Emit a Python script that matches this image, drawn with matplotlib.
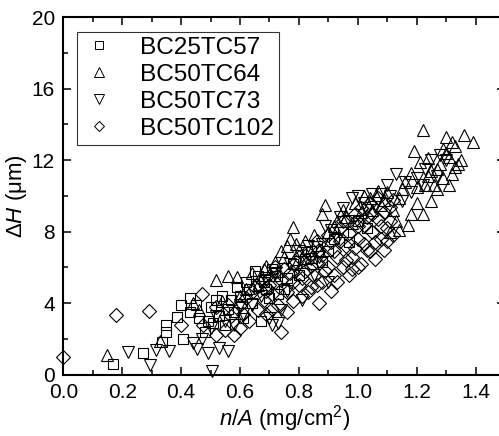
import matplotlib
matplotlib.use("Agg")
import matplotlib.pyplot as plt
from matplotlib.lines import Line2D

plt.rcParams['font.family'] = ['Liberation Sans', 'DejaVu Sans']
plt.rcParams['mathtext.fontset'] = 'custom'
plt.rcParams['mathtext.rm'] = 'Liberation Sans'
plt.rcParams['mathtext.it'] = 'Liberation Sans:italic'

labels = ["BC25TC57", "BC50TC64", "BC50TC73", "BC50TC102"]

sq_x = [0.17, 0.27, 0.335, 0.35, 0.35, 0.385, 0.40, 0.405, 0.43, 0.43, 0.46, 0.48, 0.50, 0.51,
        0.53, 0.54, 0.55, 0.57, 0.58, 0.59, 0.61, 0.63, 0.65, 0.67, 0.68, 0.70, 0.72, 0.75,
        0.78, 0.82, 0.86, 0.90, 0.95, 1.00,
        0.45, 0.49, 0.52, 0.56, 0.60, 0.62, 0.64, 0.66, 0.69, 0.71, 0.73, 0.76, 0.80, 0.84,
        0.88, 0.92, 0.97, 1.03]
sq_y = [0.6, 1.2, 1.85, 2.8, 2.4, 3.25, 3.9, 2.0, 4.3, 3.5, 3.2, 2.4, 3.8, 2.9,
        3.3, 4.4, 2.8, 4.2, 3.5, 4.9, 3.2, 4.8, 5.8, 3.0, 5.2, 4.3, 5.5, 4.8,
        6.2, 6.5, 7.2, 6.9, 8.0, 8.6,
        3.9, 3.0, 4.2, 3.7, 4.4, 5.2, 4.0, 5.5, 4.8, 5.9, 4.5, 5.4, 5.6, 6.9,
        6.3, 7.6, 7.4, 8.2]

up_x = [0.15, 0.33, 0.44, 0.46, 0.52, 0.56, 0.59, 0.54, 0.60, 0.66, 0.68, 0.70, 0.72, 0.74,
        0.76, 0.77, 0.78, 0.80, 0.82, 0.84, 0.88, 0.89, 0.90, 0.93, 0.96, 0.99, 1.02, 1.05,
        1.07, 1.09, 1.11, 1.13, 1.14, 1.15, 1.17, 1.18, 1.18, 1.19, 1.20, 1.21, 1.22, 1.22,
        1.23, 1.24, 1.25, 1.25, 1.26, 1.27, 1.28, 1.29, 1.29, 1.30, 1.31, 1.31, 1.32, 1.33,
        1.33, 1.34, 1.36, 1.39,
        0.62, 0.64, 0.69, 0.73, 0.75, 0.79, 0.81, 0.85, 0.87, 0.92, 0.95, 0.98, 1.01, 1.04,
        1.08, 1.10, 1.12, 1.14, 1.16, 1.20, 1.24, 1.27, 1.30, 1.32, 1.35]
up_y = [1.1, 1.9, 4.0, 3.6, 5.3, 5.5, 5.45, 4.1, 4.4, 5.0, 5.9, 5.6, 6.3, 6.9,
        7.2, 7.6, 8.25, 7.0, 7.5, 6.6, 9.0, 9.5, 8.0, 8.6, 8.8, 9.6, 10.0, 9.2,
        10.3, 9.8, 8.0, 8.6, 8.1, 10.4, 8.4, 9.0, 11.3, 12.5, 9.6, 11.9, 13.7, 9.0,
        10.6, 12.1, 11.4, 9.7, 10.6, 10.4, 11.8, 12.6, 11.0, 13.3, 10.6, 12.2, 13.0, 11.6,
        12.8, 11.8, 13.4, 13.0,
        4.8, 5.7, 6.1, 5.8, 6.6, 7.3, 6.3, 7.8, 7.0, 8.3, 9.2, 8.5, 9.1, 9.9,
        9.5, 10.2, 9.2, 9.9, 10.8, 10.5, 11.1, 11.5, 12.4, 11.2, 12.0]

dn_x = [0.22, 0.295, 0.315, 0.36, 0.44, 0.455, 0.49, 0.505, 0.53, 0.56, 0.47, 0.50, 0.52,
        0.55, 0.58, 0.61, 0.64, 0.67, 0.70, 0.71, 0.73, 0.74, 0.76, 0.79, 0.81, 0.83, 0.85,
        0.87, 0.89, 0.90, 0.93, 0.95, 0.98, 1.00, 1.01, 1.03, 1.05, 1.08, 1.10, 1.13, 1.15,
        1.18, 1.20, 1.23, 1.27, 1.30,
        0.60, 0.66, 0.69, 0.72, 0.77, 0.80, 0.84, 0.88, 0.91, 0.94, 0.97, 1.02, 1.06, 1.11,
        1.16, 1.22, 1.25, 1.28]
dn_y = [1.25, 0.55, 1.4, 1.3, 1.8, 1.45, 1.2, 0.2, 1.5, 1.3, 2.0, 2.6, 3.3,
        3.0, 2.8, 3.4, 3.9, 4.4, 3.2, 2.8, 2.9, 3.6, 4.7, 5.8, 4.2, 7.2, 5.6,
        6.6, 8.3, 5.2, 7.6, 9.3, 9.9, 10.0, 8.6, 9.2, 10.1, 10.1, 10.6, 11.2, 9.7,
        10.2, 11.0, 11.5, 11.1, 12.0,
        3.9, 4.9, 5.3, 5.7, 6.2, 6.9, 6.5, 7.3, 8.1, 8.8, 8.6, 9.6, 9.4, 10.0,
        10.8, 10.6, 12.0, 12.3]

di_x = [0.00, 0.18, 0.29, 0.40, 0.47, 0.475, 0.52, 0.52, 0.55, 0.57, 0.58, 0.60, 0.60, 0.62,
        0.63, 0.65, 0.66, 0.68, 0.69, 0.70, 0.71, 0.72, 0.73, 0.74, 0.74, 0.76, 0.77, 0.78,
        0.79, 0.80, 0.81, 0.82, 0.83, 0.84, 0.85, 0.86, 0.87, 0.87, 0.88, 0.90, 0.91, 0.92,
        0.93, 0.94, 0.95, 0.96, 0.97, 0.98, 0.99, 1.00, 1.01, 1.02, 1.03, 1.04, 1.05, 1.06,
        1.07, 1.08, 1.09, 1.10, 1.11, 1.12,
        0.56, 0.61, 0.64, 0.67, 0.69, 0.71, 0.72, 0.75, 0.76, 0.78, 0.80, 0.81, 0.83, 0.84,
        0.86, 0.86, 0.88, 0.89, 0.90, 0.91, 0.92, 0.93, 0.94, 0.95, 0.96, 0.97, 0.98, 0.99,
        1.00, 1.00, 1.01, 1.02, 1.03, 1.04, 1.05, 1.06, 1.07, 1.08, 1.09, 1.10, 1.11, 1.12]
di_y = [1.0, 3.35, 3.55, 2.8, 4.5, 2.8, 3.8, 2.2, 2.5, 3.3, 2.2, 2.6, 3.9, 4.3,
        3.0, 4.9, 3.6, 4.2, 3.4, 5.0, 4.5, 6.0, 3.9, 2.4, 5.3, 4.6, 5.7, 4.1,
        6.3, 5.0, 4.4, 5.8, 6.8, 4.9, 5.5, 6.3, 4.0, 7.0, 5.2, 6.0, 7.4, 5.6,
        6.6, 8.2, 6.0, 7.2, 5.6, 6.6, 9.0, 7.6, 6.2, 8.4, 7.0, 9.6, 8.0, 6.5,
        8.7, 7.6, 7.0, 8.2, 9.4, 7.8,
        3.9, 3.4, 4.6, 5.3, 4.7, 3.7, 5.2, 5.9, 3.5, 5.2, 6.6, 5.4, 4.6, 6.1,
        5.0, 7.5, 6.7, 5.8, 7.8, 4.7, 6.9, 5.2, 7.5, 8.6, 6.4, 7.9, 5.9, 7.1,
        8.3, 6.0, 9.3, 7.3, 8.8, 6.9, 9.0, 7.4, 9.9, 8.3, 9.1, 7.5, 8.6, 9.8]

x_ticks = [0.0, 0.2, 0.4, 0.6, 0.8, 1.0, 1.2, 1.4]
y_ticks = [0, 4, 8, 12, 16, 20]

markers = ['s', '^', 'v', 'D']
plot_sizes = [7.0, 9.0, 9.0, 7.2]
legend_sizes = [5.2, 6.8, 6.8, 5.2]

fig = plt.figure(figsize=(4.99, 4.36), dpi=100)
ax = fig.add_axes([63.3 / 499, (436 - 374.7) / 436, (505 - 63.3) / 499, (374.7 - 17.2) / 436])

common = dict(linestyle='none', fillstyle='none', markeredgecolor='black', markeredgewidth=0.8)
series = [(sq_x, sq_y), (up_x, up_y), (dn_x, dn_y), (di_x, di_y)]
for (xs, ys), m, ms in zip(series, markers, plot_sizes):
    ax.plot(xs, ys, marker=m, markersize=ms, clip_on=False, **common)

ax.set_xlim(0, 1.5)
ax.set_ylim(0, 20)
ax.set_xticks(x_ticks)
ax.set_xticklabels([f"{v:.1f}" for v in x_ticks])
ax.set_yticks(y_ticks)
ax.set_yticklabels([str(v) for v in y_ticks])
ax.set_xticks([i / 10 for i in range(1, 15, 2)], minor=True)
ax.set_yticks([2, 6, 10, 14, 18], minor=True)
ax.tick_params(which='both', direction='in', top=True, right=True, width=1.1, labelsize=15, pad=6)
ax.tick_params(which='major', length=6)
ax.tick_params(which='minor', length=3.5)
for s in ax.spines.values():
    s.set_linewidth(1.5)

ax.set_xlabel(r'$n/A$ (mg/cm$^{2}$)', fontsize=16, labelpad=1)
ax.set_ylabel(r'$\mathit{\Delta H}$ ($\mathrm{\mu}$m)', fontsize=16, labelpad=2)

handles = [Line2D([], [], marker=m, markersize=ms, linestyle='none', fillstyle='none',
                  markeredgecolor='black', markeredgewidth=0.7)
           for m, ms in zip(markers, legend_sizes)]
leg = ax.legend(handles, labels, loc='upper left', bbox_to_anchor=(76.7 / 499, (436 - 31.7) / 436),
                bbox_transform=fig.transFigure, fontsize=17.6, frameon=True, fancybox=False,
                edgecolor='black', borderpad=0.2, labelspacing=0.2, handlelength=1.4,
                handletextpad=1.0, borderaxespad=0, numpoints=1)
leg.get_frame().set_linewidth(0.8)

fig.savefig("out.png", dpi=100)
